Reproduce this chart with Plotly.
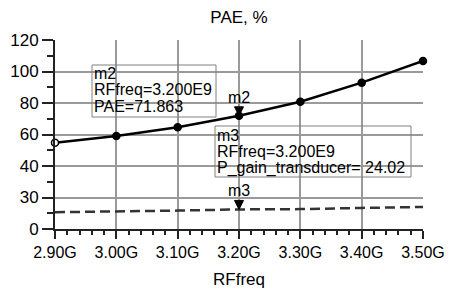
import plotly.graph_objects as go

# ---- data ----
freq_ghz = [2.90, 3.00, 3.10, 3.20, 3.30, 3.40, 3.50]
pae = [54.8, 59.0, 64.6, 71.863, 80.8, 92.9, 106.7]
gain = [20.6, 21.3, 22.6, 24.02, 24.4, 25.9, 27.0]

x_tick_vals = [2.90, 3.00, 3.10, 3.20, 3.30, 3.40, 3.50]
x_tick_text = ["2.90G", "3.00G", "3.10G", "3.20G", "3.30G", "3.40G", "3.50G"]
y_tick_vals = [0, 20, 40, 60, 80, 100, 120]
y_tick_text = ["0", "30", "40", "60", "80", "100", "120"]
y_minor_vals = [10, 30, 50, 70, 90, 110]

marker_freq = 3.20
m2_pae = 71.863
m3_gain = 24.02
m2_lines = ["m2", "RFfreq=3.200E9", "PAE=71.863"]
m3_lines = ["m3", "RFfreq=3.200E9", "P_gain_transducer= 24.02"]

# ---- layout geometry (window pixels; the page body adds an 8px offset) ----
OFF = 8
WIN_W, WIN_H = 452, 289
W, H = WIN_W - OFF, WIN_H - OFF
L, R, T, B = 55 - OFF, 423 - OFF, 40 - OFF, 229 - OFF
FONT = "Liberation Sans, Arial, sans-serif"
LINE_OFFSETS = [0, 16, 33]


def pxx(p):
    return (p - OFF - L) / (R - L)


def pxy(p):
    return (B - (p - OFF)) / (B - T)


fig = go.Figure()

fig.add_trace(go.Scatter(
    x=freq_ghz, y=gain, mode="lines", name="P_gain_transducer", yaxis="y2",
    line=dict(color="#333333", width=2.5, dash="10px,5px"),
    showlegend=False,
))
fig.add_trace(go.Scatter(
    x=freq_ghz, y=pae, mode="lines+markers", name="PAE",
    line=dict(color="black", width=2.5),
    marker=dict(size=7, color=["white"] + ["black"] * (len(pae) - 1),
                line=dict(color="black", width=1.5)),
    cliponaxis=False, showlegend=False,
))

annotations = []
shapes = []
# marker triangles (pixel-sized shapes anchored on the data point) and labels
for yref, yval, label in [("y", m2_pae, "m2"), ("y2", m3_gain, "m3")]:
    shapes.append(dict(type="path", xref="x", yref=yref,
                       xsizemode="pixel", ysizemode="pixel",
                       xanchor=marker_freq, yanchor=yval,
                       path="M -4.5,9 L 4.5,9 L 0,0 Z",
                       fillcolor="black", line=dict(color="black", width=1)))
    annotations.append(dict(x=marker_freq, y=yval, xref="x", yref=yref,
                            text=label, showarrow=False, yanchor="bottom",
                            yshift=8,
                            font=dict(size=16, color="black", family=FONT)))

# marker readout boxes: frame + one text line each
for lines, (bx0, by0, bx1, by1), tx, ty0 in [
    (m2_lines, (92, 65, 216, 117), 93, 73),
    (m3_lines, (215, 126, 411, 177), 216, 135),
]:
    shapes.append(dict(type="rect", xref="paper", yref="paper",
                       x0=pxx(bx0), x1=pxx(bx1), y0=pxy(by1), y1=pxy(by0),
                       line=dict(color="#808080", width=1), fillcolor="rgba(0,0,0,0)"))
    for t, dy in zip(lines, LINE_OFFSETS):
        annotations.append(dict(x=pxx(tx), y=pxy(ty0 + dy), xref="paper", yref="paper",
                                text=t, showarrow=False, xanchor="left", yanchor="middle",
                                borderpad=0,
                                font=dict(size=16, color="black", family=FONT)))

fig.update_layout(
    width=W, height=H,
    margin=dict(l=L, r=W - R, t=T, b=H - B, pad=0, autoexpand=False),
    paper_bgcolor="white", plot_bgcolor="white",
    font=dict(family=FONT, size=16, color="black"),
    title=dict(text="PAE, %", x=pxx(239), xref="paper", xanchor="center",
               y=1 - (17 - OFF) / H, yref="container", yanchor="middle",
               font=dict(size=17, color="black", family=FONT)),
    xaxis=dict(
        range=[2.90, 3.50], tickmode="array", tickvals=x_tick_vals, ticktext=x_tick_text,
        automargin=False,
        showgrid=True, gridcolor="#9a9a9a", gridwidth=1.5, zeroline=False,
        showline=True, linecolor="#222222", linewidth=2,
        ticks="outside", ticklen=8, tickwidth=1.5, tickcolor="#222222",
        minor=dict(dtick=0.02, tick0=2.90, ticks="outside", ticklen=4, tickwidth=1.5,
                   tickcolor="#222222", showgrid=False),
        tickfont=dict(size=16, color="black", family=FONT),
        title=dict(text="RFfreq", standoff=13, font=dict(size=17, color="black", family=FONT)),
    ),
    yaxis=dict(
        range=[0, 120], tickmode="array", tickvals=y_tick_vals, ticktext=y_tick_text,
        automargin=False,
        showgrid=True, gridcolor="#9a9a9a", gridwidth=1.5, zeroline=False,
        showline=True, linecolor="#222222", linewidth=2,
        ticks="outside", ticklen=11, tickwidth=1.5, tickcolor="#222222",
        minor=dict(tickmode="array", tickvals=y_minor_vals, ticks="outside", ticklen=6,
                   tickwidth=1.5, tickcolor="#222222", showgrid=False),
        tickfont=dict(size=17, color="black", family=FONT),
    ),
    yaxis2=dict(range=[0, 232], overlaying="y", visible=False),
    annotations=annotations,
    shapes=shapes,
)

fig.write_html("out.html")
